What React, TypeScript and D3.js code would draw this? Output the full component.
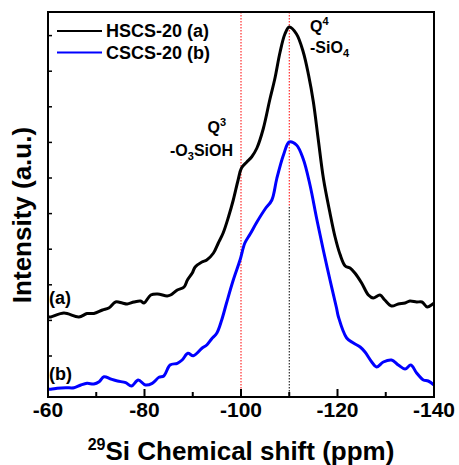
import React from "react";
import * as d3 from "d3";

// ppm shift values and intensities (a.u.)
const hscsShift = [-60, -60.6, -63.3, -66.4, -68.1, -69.5, -71.3, -72.6, -74.0, -75.4, -76.4, -77.8, -79.2, -79.9, -81.3, -82.7, -84.7, -85.4, -86.8, -88.2, -88.9, -89.9, -90.5, -91.9, -92.9, -94.3, -95.3, -96.3, -97.4, -98.4, -99.4, -100.1, -101.2, -102.2, -103.3, -104.6, -106.0, -107.0, -108.1, -109.1, -110.0, -111.5, -112.9, -114.0, -115.0, -116.0, -117.1, -118.4, -119.5, -120.5, -121.6, -122.6, -123.6, -125.0, -126.4, -127.4, -128.8, -129.8, -131.2, -132.6, -134.0, -135.0, -136.4, -137.5, -138.6, -140];
const hscsIntensity = [80, 80, 84, 80, 83.5, 83.5, 87, 89, 95, 94, 93, 95, 96, 94, 102, 103, 101, 102, 107, 110, 117, 124, 130, 135, 137, 144, 154, 164, 180, 197, 217, 229, 235, 240, 249, 268, 298, 318, 345, 363, 370, 363, 345, 322, 295, 258, 218, 185, 160, 143, 131, 129, 124, 114, 102, 99, 102, 97, 91, 93, 94, 96, 95, 95, 90, 94];

const cscsShift = [-60, -60.6, -61.9, -63.7, -65.4, -66.8, -68.1, -69.5, -70.6, -71.6, -73.0, -74.4, -76.1, -77.3, -78.7, -80.2, -81.6, -83.0, -84.0, -85.3, -86.8, -87.8, -89.0, -90.1, -91.9, -92.9, -93.9, -95.0, -96.0, -97.0, -98.4, -99.8, -100.8, -101.9, -103.3, -105.0, -106.4, -107.4, -108.8, -110.0, -111.5, -112.9, -114.3, -115.7, -117.1, -118.4, -119.8, -120.2, -121.9, -123.3, -124.7, -125.7, -127.1, -128.1, -129.5, -131.2, -132.6, -134.0, -135.2, -136.4, -137.8, -138.8, -140];
const cscsIntensity = [8, 7.7, 8.7, 9.3, 9.3, 12, 13.7, 13, 15.3, 20.3, 18, 16, 14.3, 11, 17, 12, 13.7, 19.7, 21, 32, 33.7, 37, 43.7, 41.3, 48.7, 52, 58, 64, 77, 94, 117, 137, 154, 163, 175, 188, 197, 218, 242, 255, 252, 238, 212, 178, 146, 118, 89, 80, 59, 54, 50, 45, 35, 30, 35, 37, 32, 28, 32, 24, 17, 16, 12];

const xMajorTicks = [-60, -80, -100, -120, -140];
const xMinorTicks = [-70, -90, -110, -130];
const legendLabels = ["HSCS-20 (a)", "CSCS-20 (b)"];
const seriesColors = ["#000000", "#0000ff"];
const q3Shift = -100;
const q4Shift = -110;

const FONT = "'Liberation Sans', Arial, sans-serif";

export default function App() {
  const left = 48, right = 434, top = 12, bottom = 397;
  const x = d3.scaleLinear().domain([-60, -140]).range([left, right]);
  const y = d3.scaleLinear().domain([0, 385]).range([bottom, top]);
  const yTicks = d3.range(41, 380, 35.6);

  const line = d3
    .line<number>()
    .x((d) => x(d))
    .y((_, i) => 0)
    .curve(d3.curveCatmullRom.alpha(0.5));

  const makePath = (xs: number[], ys: number[]) =>
    d3
      .line<[number, number]>()
      .x((d) => x(d[0]))
      .y((d) => y(d[1]))
      .curve(d3.curveCatmullRom.alpha(0.5))(xs.map((v, i) => [v, ys[i]] as [number, number])) || "";

  void line;

  const blackPeakY = y(d3.max(cscsIntensity)!) + 65;

  return (
    <svg width={459} height={465} style={{ position: "absolute", left: 0, top: 0 }} fontFamily={FONT}>
      <rect x={0} y={0} width={459} height={465} fill="#fff" />
      {/* reference lines */}
      <line x1={x(q3Shift)} x2={x(q3Shift)} y1={top} y2={bottom} stroke="#ff0000" strokeWidth={1} strokeDasharray="1.5,1.5" />
      <line x1={x(q4Shift)} x2={x(q4Shift)} y1={top} y2={blackPeakY} stroke="#ff0000" strokeWidth={1} strokeDasharray="1.5,1.5" />
      <line x1={x(q4Shift)} x2={x(q4Shift)} y1={blackPeakY} y2={bottom} stroke="#000" strokeWidth={1} strokeDasharray="1.5,1.5" />

      {/* curves */}
      <path d={makePath(hscsShift, hscsIntensity)} fill="none" stroke={seriesColors[0]} strokeWidth={3} strokeLinejoin="round" />
      <path d={makePath(cscsShift, cscsIntensity)} fill="none" stroke={seriesColors[1]} strokeWidth={3} strokeLinejoin="round" />

      {/* frame */}
      <rect x={left} y={top} width={right - left} height={bottom - top} fill="none" stroke="#000" strokeWidth={2} />

      {/* x ticks */}
      {xMajorTicks.map((t) => (
        <line key={"M" + t} x1={x(t)} x2={x(t)} y1={bottom} y2={bottom - 8} stroke="#000" strokeWidth={2} />
      ))}
      {xMinorTicks.map((t) => (
        <line key={"m" + t} x1={x(t)} x2={x(t)} y1={bottom} y2={bottom - 5} stroke="#000" strokeWidth={2} />
      ))}
      {xMajorTicks.map((t) => (
        <text key={"l" + t} x={x(t)} y={417} textAnchor="middle" fontSize={21} fontWeight="bold">
          {t}
        </text>
      ))}
      {/* y ticks */}
      {yTicks.map((t) => (
        <line key={"y" + t} x1={left} x2={left + 4} y1={y(t)} y2={y(t)} stroke="#000" strokeWidth={1.5} />
      ))}

      {/* axis titles */}
      <text x={241} y={460} textAnchor="middle" fontSize={26} fontWeight="bold">
        <tspan fontSize={16} dy={-10}>29</tspan>
        <tspan dy={10}>Si Chemical shift (ppm)</tspan>
      </text>
      <text transform="translate(31,215) rotate(-90)" textAnchor="middle" fontSize={26} fontWeight="bold">
        Intensity (a.u.)
      </text>

      {/* legend */}
      {legendLabels.map((lab, i) => (
        <g key={lab}>
          <line x1={57} x2={102} y1={31 + i * 21.6} y2={31 + i * 21.6} stroke={seriesColors[i]} strokeWidth={2} />
          <text x={106} y={37 + i * 21.6} fontSize={18} fontWeight="bold">{lab}</text>
        </g>
      ))}

      {/* annotations */}
      <text x={226} y={133} textAnchor="end" fontSize={16} fontWeight="bold">
        Q<tspan fontSize={11} dy={-7}>3</tspan>
      </text>
      <text x={233} y={156} textAnchor="end" fontSize={16} fontWeight="bold">
        -O<tspan fontSize={11} dy={4}>3</tspan><tspan dy={-4}>SiOH</tspan>
      </text>
      <text x={310} y={32} fontSize={16} fontWeight="bold">
        Q<tspan fontSize={11} dy={-7}>4</tspan>
      </text>
      <text x={310} y={53} fontSize={16} fontWeight="bold">
        -SiO<tspan fontSize={11} dy={4}>4</tspan>
      </text>

      <text x={49} y={304} fontSize={18} fontWeight="bold">(a)</text>
      <text x={49} y={380} fontSize={18} fontWeight="bold">(b)</text>
    </svg>
  );
}
